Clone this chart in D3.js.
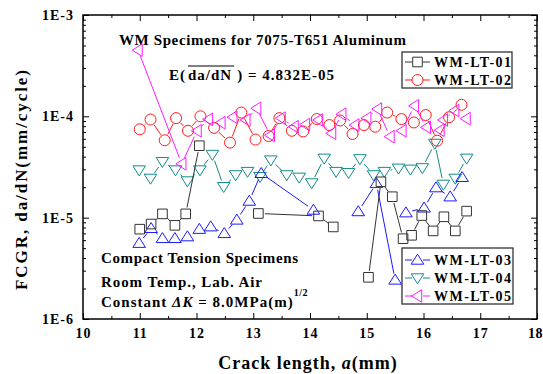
<!DOCTYPE html>
<html>
<head>
<meta charset="utf-8">
<script src="https://cdn.jsdelivr.net/npm/d3@7"></script>
<style>
body{margin:0;background:#fff}
svg{display:block}
text{font-family:"Liberation Serif","Times New Roman",serif;font-weight:bold;fill:#000}
</style>
</head>
<body>
<script>
// values; null = break in the line
var lt01A = [11.0, 11.2, 11.4, 11.62, 11.81, 12.05, null, 13.09, 14.15, 14.41, null, 15.03, 15.25, 15.45, 15.64, 15.79, 15.97, 16.17, 16.36, 16.56, 16.76];
var lt01R = [7.7e-6, 8.65e-6, 1.09e-5, 8.4e-6, 1.09e-5, 5.13e-5, null, 1.1e-5, 1.04e-5, 8.1e-6, null, 2.58e-6, 2.26e-5, 1.61e-5, 6.2e-6, 6.7e-6, 1.05e-5, 7.4e-6, 1.02e-5, 7.4e-6, 1.16e-5];

var lt02A = [11.0, 11.19, 11.44, 11.64, 11.85, 12.07, 12.31, 12.59, 12.79, 13.04, 13.27, 13.46, 13.68, 13.88, 14.12, 14.34, 14.53, 14.75, 14.95, 15.15, 15.36, 15.61, 15.83, 16.04, 16.24, 16.45, 16.67];
var lt02R = [7.45e-5, 9.3e-5, 5.8e-5, 9.6e-5, 7.2e-5, 1.0e-4, 7.7e-5, 5.5e-5, 1.09e-4, 5.9e-5, 6.4e-5, 9.6e-5, 7.2e-5, 7.1e-5, 9.4e-5, 8.2e-5, 9.1e-5, 6.7e-5, 8.2e-5, 7.9e-5, 1.09e-4, 9.4e-5, 8.7e-5, 1.03e-4, 5.75e-5, 9.8e-5, 1.3e-4];

var lt03A = [10.99, 11.2, 11.4, 11.62, 11.84, 12.05, 12.25, 12.49, 12.71, 12.93, 13.14, 14.06, null, 14.85, 15.17, 15.5, null, 15.69, 16.01, 16.22, 16.47, 16.68];
var lt03R = [5.6e-6, 7.85e-6, 6.25e-6, 6.25e-6, 6.5e-6, 7.7e-6, 8.15e-6, 7.0e-6, 9.5e-6, 1.46e-5, 2.74e-5, 1.19e-5, null, 1.15e-5, 2.18e-5, 2.43e-6, null, 1.12e-5, 1.25e-5, 1.98e-5, 1.61e-5, 2.5e-5];

var lt04A = [10.99, 11.19, 11.4, 11.63, 11.84, 12.06, 12.28, 12.48, 12.69, 12.9, 13.12, 13.31, 13.59, 13.81, 14.03, 14.25, 14.46, 14.68, 14.88, 15.12, 15.31, 15.56, 15.77, 15.98, 16.2, 16.35, 16.56, 16.76];
var lt04R = [2.95e-5, 2.44e-5, 3.57e-5, 2.95e-5, 2.3e-5, 2.95e-5, 4.2e-5, 2.02e-5, 2.64e-5, 2.85e-5, 2.54e-5, 3.7e-5, 2.64e-5, 2.5e-5, 2.2e-5, 3.85e-5, 2.85e-5, 2.78e-5, 3.8e-5, 2.64e-5, 2.85e-5, 3.07e-5, 3.0e-5, 3.1e-5, 5.4e-5, 2.13e-5, 2.44e-5, 3.85e-5];

var lt05A = [10.97, 11.74, 12.01, 12.21, 12.43, 12.64, 12.87, 13.06, 13.3, 13.49, 13.72, 13.92, 14.15, 14.38, 14.56, 14.79, 15.0, 15.19, 15.41, 15.62, 15.84, 16.05, 16.29, 16.35, 16.55, 16.75];
var lt05R = [4.5e-4, 3.4e-5, 7.2e-5, 9.35e-5, 8.65e-5, 9.8e-5, 9.2e-5, 1.2e-4, 6.5e-5, 9.6e-5, 7.9e-5, 8.3e-5, 9.2e-5, 6.8e-5, 1.05e-4, 8.2e-5, 9.6e-5, 1.18e-4, 6.3e-5, 7.2e-5, 1.27e-4, 7.8e-5, 7.3e-5, 9.2e-5, 1.14e-4, 9.5e-5];

var xTicks = [10, 11, 12, 13, 14, 15, 16, 17, 18];
var xMinor = [10.5, 11.5, 12.5, 13.5, 14.5, 15.5, 16.5, 17.5];
var yTicks = [1e-6, 1e-5, 1e-4, 1e-3];
var yLabels = ["1E-6", "1E-5", "1E-4", "1E-3"];

// set the dimensions and margins of the chart
var margin = {top: 15, right: 6, bottom: 55, left: 83},
    width = 543 - margin.left - margin.right,
    height = 374 - margin.top - margin.bottom;

var svg = d3.select("body").append("svg")
    .attr("width", 543)
    .attr("height", 374),
  g = svg.append("g")
    .attr("transform", "translate(" + margin.left + "," + margin.top + ")");

var x = d3.scaleLinear().domain([10, 18]).range([0, width]);
var y = d3.scaleLog().domain([1e-6, 1e-3]).range([height, 0]);
var yMinor = y.ticks().filter(function(d) { return yTicks.indexOf(d) < 0 && Math.abs(Math.log10(d) % 1) > 1e-6; });

// axes, ticks pointing inward
function styleAxis(sel) {
  sel.select(".domain").remove();
  sel.selectAll("line").attr("stroke", "#000").attr("stroke-width", 1);
  sel.selectAll("text").attr("font-size", 14).attr("letter-spacing", 1).attr("fill", "#000")
     .attr("font-family", '"Liberation Serif", serif').attr("font-weight", "bold");
}
var xAx = g.append("g").attr("transform", "translate(0," + height + ")")
  .call(d3.axisBottom(x).tickValues(xTicks).tickSize(-6).tickPadding(9).tickFormat(d3.format("d"))).call(styleAxis);
// keep the last label inside the window
xAx.selectAll("text").filter(function(d) { return d === 18; }).attr("dx", -2).attr("letter-spacing", 0.5);
g.append("g").attr("transform", "translate(0," + height + ")")
  .call(d3.axisBottom(x).tickValues(xMinor).tickSize(-3).tickFormat("")).call(styleAxis);
g.append("g")
  .call(d3.axisTop(x).tickValues(xTicks).tickSize(-6).tickFormat("")).call(styleAxis);
g.append("g")
  .call(d3.axisTop(x).tickValues(xMinor).tickSize(-3).tickFormat("")).call(styleAxis);
g.append("g")
  .call(d3.axisLeft(y).tickValues(yTicks).tickSize(-6).tickPadding(9)
    .tickFormat(function(d, i) { return yLabels[i]; })).call(styleAxis);
g.append("g")
  .call(d3.axisLeft(y).tickValues(yMinor).tickSize(-3).tickFormat("")).call(styleAxis);
g.append("g").attr("transform", "translate(" + width + ",0)")
  .call(d3.axisRight(y).tickValues(yTicks).tickSize(-6).tickFormat("")).call(styleAxis);
g.append("g").attr("transform", "translate(" + width + ",0)")
  .call(d3.axisRight(y).tickValues(yMinor).tickSize(-3).tickFormat("")).call(styleAxis);

g.append("rect").attr("width", width).attr("height", height)
  .attr("fill", "none").attr("stroke", "#000").attr("stroke-width", 1.5);

// marker shapes
var shapes = {
  square: "M-4.8,-4.8h9.6v9.6h-9.6z",
  circle: "M5.5,0A5.5,5.5 0 1,1 -5.5,0A5.5,5.5 0 1,1 5.5,0Z",
  up: "M0,-5.8L6.3,4.2L-6.3,4.2Z",
  down: "M0,5.8L6.3,-4.2L-6.3,-4.2Z",
  left: "M-5.8,0L4.2,-6.3L4.2,6.3Z"
};

function drawSeries(aArr, rArr, color, shape) {
  var pts = aArr.map(function(a, i) { return a == null ? null : [x(a), y(rArr[i])]; });
  var gap = 6.5;
  var sg = g.append("g");
  for (var i = 0; i < pts.length - 1; i++) {
    var p = pts[i], q = pts[i + 1];
    if (!p || !q) continue;
    var dx = q[0] - p[0], dy = q[1] - p[1], len = Math.sqrt(dx * dx + dy * dy);
    if (len <= 2 * gap + 1) continue;
    var ux = dx / len, uy = dy / len;
    sg.append("line")
      .attr("x1", p[0] + ux * gap).attr("y1", p[1] + uy * gap)
      .attr("x2", q[0] - ux * gap).attr("y2", q[1] - uy * gap)
      .attr("stroke", color).attr("stroke-width", 1);
  }
  sg.selectAll("path.mk")
    .data(pts.filter(function(d) { return d; }))
    .enter().append("path")
    .attr("class", "mk")
    .attr("d", shapes[shape])
    .attr("transform", function(d) { return "translate(" + d[0] + "," + d[1] + ")"; })
    .attr("fill", "none").attr("stroke", color).attr("stroke-width", 1);
}

drawSeries(lt04A, lt04R, "#138a8a", "down");
drawSeries(lt03A, lt03R, "#1a1aff", "up");
drawSeries(lt01A, lt01R, "#333333", "square");
drawSeries(lt02A, lt02R, "#ff1a1a", "circle");
drawSeries(lt05A, lt05R, "#ff1aff", "left");

// legends
function legend(items, bx, by, bw, bh, rows) {
  var lg = svg.append("g");
  lg.append("rect").attr("x", bx).attr("y", by).attr("width", bw).attr("height", bh)
    .attr("fill", "#fff").attr("stroke", "#333").attr("stroke-width", 1.3);
  items.forEach(function(it, i) {
    var cy = rows[i];
    lg.append("line").attr("x1", bx + 3).attr("x2", bx + 10).attr("y1", cy).attr("y2", cy).attr("stroke", it.color);
    lg.append("line").attr("x1", bx + 21).attr("x2", bx + 28).attr("y1", cy).attr("y2", cy).attr("stroke", it.color);
    lg.append("path").attr("d", shapes[it.shape]).attr("transform", "translate(" + (bx + 15.5) + "," + cy + ")")
      .attr("fill", "none").attr("stroke", it.color);
    lg.append("text").attr("x", bx + 32).attr("y", cy).attr("dy", "0.35em")
      .attr("font-size", 14).attr("textLength", 77).attr("lengthAdjust", "spacing").text(it.name);
  });
}
legend([{name: "WM-LT-01", color: "#333333", shape: "square"},
        {name: "WM-LT-02", color: "#ff1a1a", shape: "circle"}], 402, 52, 110, 36, [62, 80]);
legend([{name: "WM-LT-03", color: "#1a1aff", shape: "up"},
        {name: "WM-LT-04", color: "#138a8a", shape: "down"},
        {name: "WM-LT-05", color: "#ff1aff", shape: "left"}], 402, 248, 111, 56, [260, 278, 296]);

// annotations
svg.append("text").attr("x", 119).attr("y", 45).attr("font-size", 15)
  .attr("textLength", 287).attr("lengthAdjust", "spacing").text("WM Specimens for 7075-T651 Aluminum");

var eg = svg.append("g");
var t1 = eg.append("text").attr("x", 169).attr("y", 80).attr("font-size", 15).attr("letter-spacing", 1).text("E(");
var w1 = t1.node().getComputedTextLength() + 2;
var t2 = eg.append("text").attr("x", 169 + w1).attr("y", 80).attr("font-size", 15).attr("letter-spacing", 1).text("da/dN");
var w2 = t2.node().getComputedTextLength() + 5;
eg.append("line").attr("x1", 169 + w1).attr("x2", 169 + w1 + w2 - 3).attr("y1", 66).attr("y2", 66)
  .attr("stroke", "#000").attr("stroke-width", 1.2);
eg.append("text").attr("x", 169 + w1 + w2).attr("y", 80).attr("font-size", 15).attr("letter-spacing", 1)
  .text(") = 4.832E-05");

svg.append("text").attr("x", 101).attr("y", 263).attr("font-size", 15)
  .attr("textLength", 197).attr("lengthAdjust", "spacing").text("Compact Tension Specimens");
svg.append("text").attr("x", 101).attr("y", 287).attr("font-size", 15)
  .attr("textLength", 161).attr("lengthAdjust", "spacing").text("Room Temp., Lab. Air");
var ck = svg.append("text").attr("x", 101).attr("y", 307).attr("font-size", 15).attr("letter-spacing", 1);
ck.append("tspan").text("Constant ");
ck.append("tspan").attr("font-style", "italic").text("\u0394K");
ck.append("tspan").text(" = 8.0MPa(m)");
ck.append("tspan").attr("dy", -11).attr("font-size", 10).attr("letter-spacing", 0.5).text("1/2");

// axis titles
svg.append("text").attr("x", 308).attr("y", 369).attr("text-anchor", "middle").attr("font-size", 18)
  .attr("letter-spacing", 1)
  .html('Crack length, <tspan font-style="italic">a</tspan>(mm)');
svg.append("text").attr("transform", "translate(27,180) rotate(-90)").attr("text-anchor", "middle")
  .attr("font-size", 17).attr("textLength", 220).attr("lengthAdjust", "spacing")
  .text("FCGR, da/dN(mm/cycle)");
</script>
</body>
</html>
